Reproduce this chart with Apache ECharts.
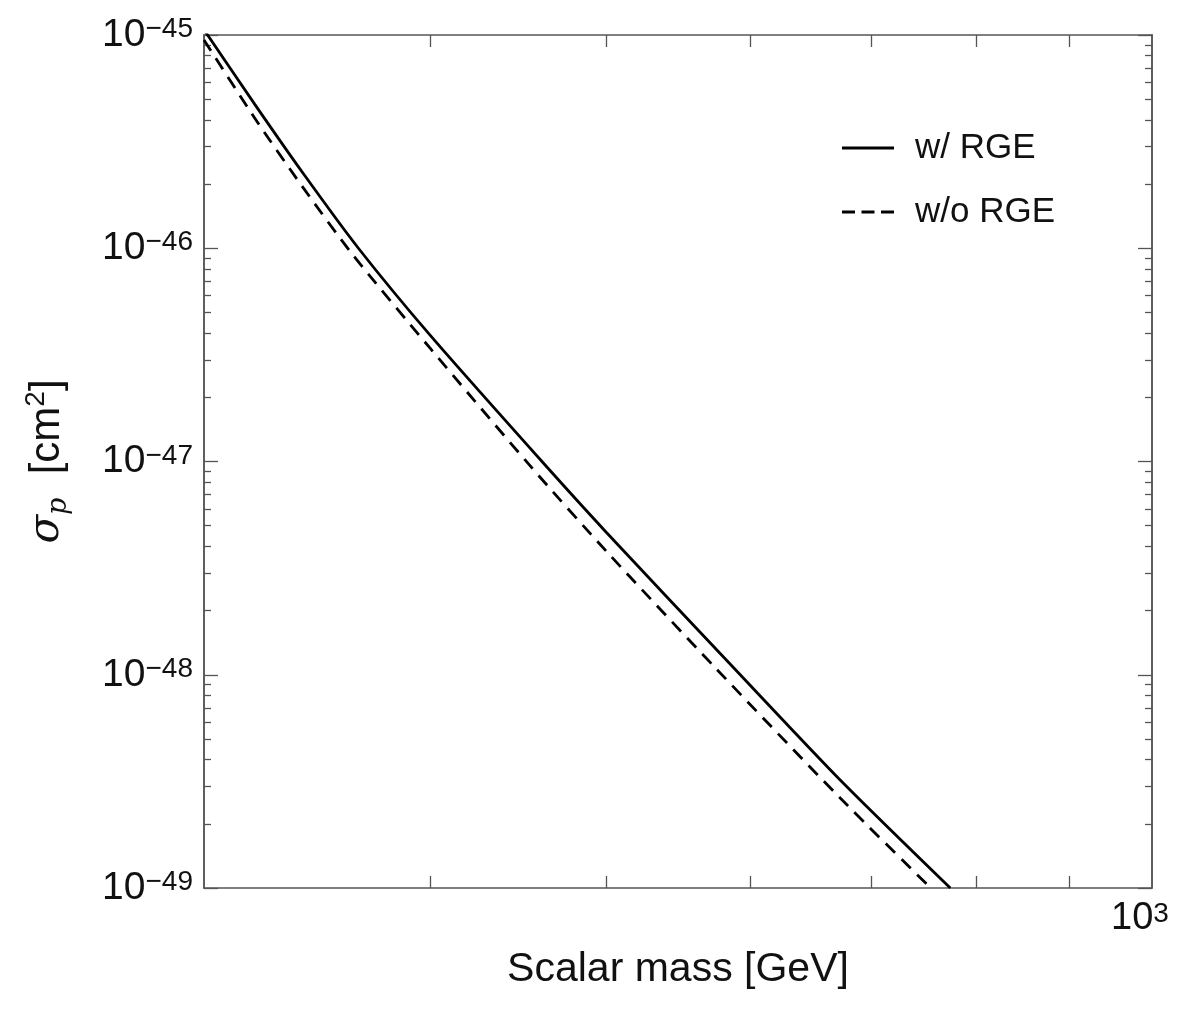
<!DOCTYPE html>
<html>
<head>
<meta charset="utf-8">
<script src="https://cdn.jsdelivr.net/npm/echarts@6/dist/echarts.min.js"></script>
<style>
  html, body { margin: 0; padding: 0; background: #fff; }
  #chart { width: 1200px; height: 1012px; }
</style>
</head>
<body>
<div id="chart"></div>
<script>
// Spin-independent scalar DM–proton cross section vs scalar mass
const massWithRGE = [300, 320, 340, 365, 400, 459, 500, 588, 673, 774];
const sigmaWithRGE = [1.059e-45, 4.73e-46, 2.265e-46, 1.0e-46, 3.89e-47, 1.038e-47, 4.66e-48, 1.076e-48, 3.21e-49, 1.0e-49];

const massNoRGE = [300, 320, 340, 362.5, 400, 455, 500, 574.4, 673, 755];
const sigmaNoRGE = [9.48e-46, 4.07e-46, 1.94e-46, 9.29e-47, 3.38e-47, 9.33e-48, 3.80e-48, 1.076e-48, 2.64e-49, 1.0e-49];

// axis ranges and tick values (GeV, cm^2)
const massMin = 300, massMax = 1000;
const massMinorTicks = [400, 500, 600, 700, 800, 900];
const massLabelTicks = [1000];
const sigmaExponents = [-49, -48, -47, -46, -45];
const sigmaMinorFactors = [2, 3, 4, 5, 6, 7, 8, 9];

const lg = Math.log10;
const pairs = (xs, ys) => xs.map((x, i) => [lg(x), lg(ys[i])]);

const sigmaMinorTicks = [];
sigmaExponents.slice(0, -1).forEach(e => {
  sigmaMinorFactors.forEach(k => sigmaMinorTicks.push(lg(k) + e));
});

const FONT = 'Liberation Sans';
const INK = '#111';
const frameColor = '#555';
const frameLine = { show: true, onZero: false, lineStyle: { color: frameColor, width: 1.5 } };
const supStyle = { fontSize: 28, fontFamily: FONT, color: INK, verticalAlign: 'top', lineHeight: 24, padding: [0, 0, 16, 0] };

// legend glyphs: a solid bar and three dashes, 52 px long
const solidIcon = 'path://M0,0H52V3H0Z';
const dashIcon = 'path://M0,0H13V3H0Z M19.5,0H32.5V3H19.5Z M39,0H52V3H39Z';

function yAxisDef(pos, ticks, len, withLabels) {
  return {
    type: 'value', position: pos, min: lg(1e-49), max: lg(1e-45), interval: 1,
    axisLine: frameLine,
    splitLine: { show: false },
    axisTick: Object.assign({ show: true, inside: true, length: len,
      lineStyle: { color: frameColor, width: 1.3 } }, ticks ? { customValues: ticks } : {}),
    axisLabel: withLabels ? {
      show: true, margin: 11, fontFamily: FONT, fontSize: 39, color: INK,
      formatter: v => '10{sup|\u2212' + Math.round(-v) + '}',
      rich: { sup: supStyle }
    } : { show: false }
  };
}

function xAxisDef(pos, withLabels) {
  return {
    type: 'value', position: pos, min: lg(massMin), max: lg(massMax),
    axisLine: frameLine,
    splitLine: { show: false },
    axisTick: { show: true, inside: true, length: 12, customValues: massMinorTicks.map(lg),
      lineStyle: { color: frameColor, width: 1.3 } },
    axisLabel: withLabels ? {
      show: true, customValues: massLabelTicks.map(lg), margin: 12,
      fontFamily: FONT, fontSize: 38, color: INK,
      formatter: v => '10{sup|' + Math.round(v) + '}{sp|}',
      rich: { sup: supStyle, sp: { width: 24 } }
    } : { show: false }
  };
}

const xBottom = xAxisDef('bottom', true);
Object.assign(xBottom, {
  name: 'Scalar mass [GeV]', nameLocation: 'middle', nameGap: 56,
  nameTextStyle: { fontFamily: FONT, fontSize: 41, color: INK }
});

const yLeft = yAxisDef('left', null, 14, true);
Object.assign(yLeft, {
  name: '{it|\u03c3}{sub|p}{n|  [cm}{sup|2}{n|]}', nameLocation: 'middle', nameGap: 132, nameRotate: 90,
  nameTextStyle: {
    fontFamily: FONT, fontSize: 42, color: INK,
    rich: {
      it: { fontFamily: 'DejaVu Serif', fontStyle: 'italic', fontSize: 42, color: INK, lineHeight: 50 },
      sub: { fontFamily: 'DejaVu Serif', fontStyle: 'italic', fontSize: 27, color: INK, verticalAlign: 'bottom', lineHeight: 50 },
      n: { fontFamily: FONT, fontSize: 42, color: INK, lineHeight: 50 },
      sup: { fontFamily: FONT, fontSize: 28, color: INK, verticalAlign: 'top', lineHeight: 26 }
    }
  }
});

const chart = echarts.init(document.getElementById('chart'), null, { renderer: 'canvas' });
chart.setOption({
  backgroundColor: '#fff',
  animation: false,
  grid: { left: 204, right: 48, top: 35, bottom: 124, containLabel: false },
  legend: {
    show: true, orient: 'vertical', left: 842, top: 128, padding: 0,
    itemWidth: 52, itemHeight: 3, itemGap: 24,
    itemStyle: { color: '#000', borderWidth: 0 },
    formatter: name => '{g|}' + name,
    textStyle: { fontFamily: FONT, fontSize: 35, color: INK, lineHeight: 40, rich: { g: { width: 16 } } },
    data: [{ name: 'w/ RGE', icon: solidIcon }, { name: 'w/o RGE', icon: dashIcon }]
  },
  xAxis: [xBottom, xAxisDef('top', false)],
  yAxis: [
    yLeft,
    yAxisDef('left', sigmaMinorTicks, 7, false),
    yAxisDef('right', null, 14, false),
    yAxisDef('right', sigmaMinorTicks, 7, false)
  ],
  series: [
    {
      name: 'w/ RGE', type: 'line', xAxisIndex: 0, yAxisIndex: 0,
      data: pairs(massWithRGE, sigmaWithRGE), smooth: 0.25, symbol: 'none',
      lineStyle: { color: '#000', width: 2.8, type: 'solid' }, itemStyle: { color: '#000' }
    },
    {
      name: 'w/o RGE', type: 'line', xAxisIndex: 0, yAxisIndex: 0,
      data: pairs(massNoRGE, sigmaNoRGE), smooth: 0.25, symbol: 'none',
      lineStyle: { color: '#000', width: 2.8, type: [13, 9] }, itemStyle: { color: '#000' }
    }
  ]
});
</script>
</body>
</html>
